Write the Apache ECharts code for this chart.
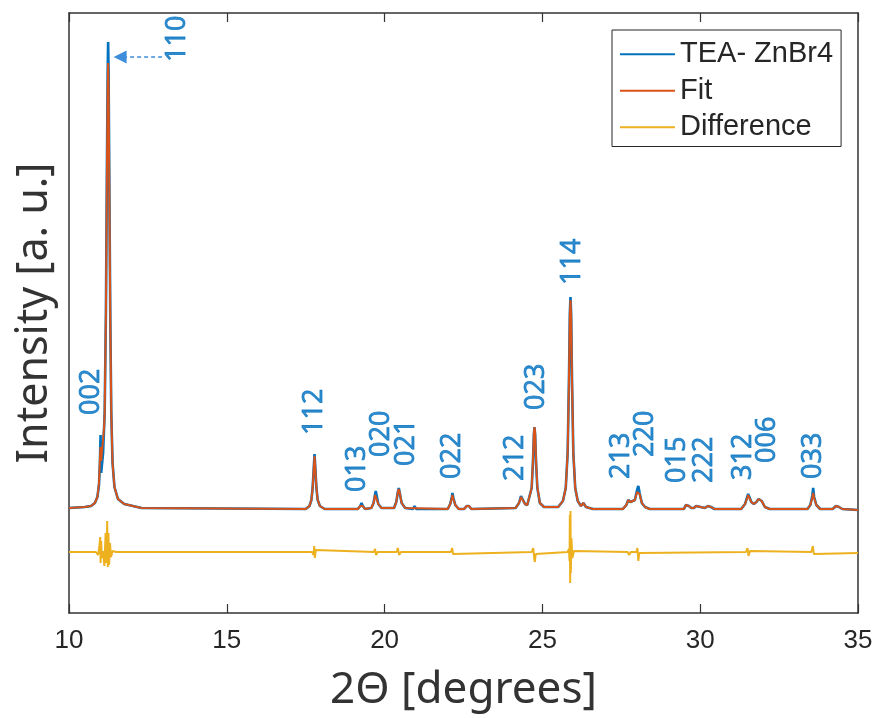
<!DOCTYPE html>
<html>
<head>
<meta charset="utf-8">
<script src="https://cdn.jsdelivr.net/npm/echarts@6/dist/echarts.min.js"></script>
<style>
  html, body { margin: 0; padding: 0; background: #ffffff; }
  #chart { width: 879px; height: 718px; }
</style>
</head>
<body>
<div id="chart"></div>
<script>
// X-ray powder pattern of TEA-ZnBr4: measured profile, refined fit and residual.
// Angles in degrees 2θ, intensities in arbitrary units.

const xMin = 10, xMax = 35, xStep = 5;
const yMin = 0, yMax = 600;

// Measured profile [2θ, intensity]
const measured = [
  [10.00,105],[10.50,106],[10.70,107],[10.82,110],[10.90,116],[10.95,128],[10.98,150],[11.00,178],[11.01,178],[11.02,140],
  [11.08,160],[11.13,200],[11.17,300],[11.20,440],[11.225,540],[11.24,571],[11.255,540],[11.28,420],[11.31,290],[11.34,200],
  [11.38,150],[11.44,126],[11.55,114],[11.75,109],[12.30,105],
  [17.50,104],[17.62,107],[17.68,113],[17.72,125],[17.755,145],[17.78,159],[17.805,145],[17.84,125],[17.88,113],[17.95,107],[18.10,104],
  [19.15,104],[19.23,107],[19.27,110],[19.31,107],[19.38,104],
  [19.58,105],[19.65,110],[19.70,119],[19.72,122],[19.75,117],[19.80,109],[19.90,105],
  [20.30,105],[20.37,111],[20.42,121],[20.45,125],[20.48,120],[20.54,110],[20.65,105],
  [20.90,104],[20.95,107],[21.00,104],
  [22.00,104],[22.08,109],[22.13,116],[22.15,120],[22.18,115],[22.24,108],[22.35,104],
  [22.52,104],[22.60,107],[22.63,108],[22.67,107],[22.75,104],
  [24.15,105],[24.26,110],[24.32,117],[24.34,119],[24.37,116],[24.45,109],[24.52,108],
  [24.58,110],[24.66,125],[24.70,150],[24.73,178],[24.75,186],[24.77,178],[24.80,150],[24.84,125],[24.92,110],[25.05,106],
  [25.50,106],[25.65,112],[25.74,125],[25.80,160],[25.84,230],[25.87,300],[25.89,316],[25.91,300],[25.94,230],[25.98,160],
  [26.04,125],[26.12,112],[26.22,107],[26.30,110],[26.38,106],[26.60,104],
  [27.55,104],[27.66,108],[27.72,113],[27.75,115],[27.79,111],[27.85,110],
  [27.93,113],[28.00,123],[28.04,127],[28.08,120],[28.15,110],[28.25,106],[28.40,104],
  [29.48,104],[29.55,108],[29.59,110],[29.64,107],[29.72,105],[29.80,105],[29.87,107],[29.93,105],
  [30.15,105],[30.24,107],[30.28,108],[30.34,106],[30.45,104],
  [31.30,104],[31.42,109],[31.49,116],[31.52,119],[31.56,116],[31.62,111],[31.70,109],[31.78,111],[31.85,114],[31.90,115],[31.95,112],[32.05,106],[32.20,104],
  [33.40,104],[33.49,108],[33.55,117],[33.58,125],[33.61,116],[33.68,108],[33.80,104],
  [34.20,104],[34.30,107],[34.34,108],[34.40,106],[34.50,104],[35.00,103]
];

// Refined (calculated) profile [2θ, intensity]
const fitted = [
  [10.00,105],[10.50,106],[10.70,107],[10.82,110],[10.90,116],[10.95,130],[10.985,158],[11.00,166],[11.02,152],[11.06,152],
  [11.11,185],[11.13,200],[11.17,300],[11.20,435],[11.225,525],[11.24,550],[11.255,525],[11.28,415],[11.31,290],[11.34,200],
  [11.38,150],[11.44,126],[11.55,114],[11.75,109],[12.30,105],
  [17.50,104],[17.62,107],[17.68,113],[17.72,125],[17.755,144],[17.78,157],[17.805,144],[17.84,125],[17.88,113],[17.95,107],[18.10,104],
  [19.15,104],[19.23,107],[19.27,109],[19.31,107],[19.38,104],
  [19.58,105],[19.65,110],[19.70,118],[19.72,120],[19.75,116],[19.80,109],[19.90,105],
  [20.30,105],[20.37,111],[20.42,121],[20.45,124],[20.48,120],[20.54,110],[20.65,105],
  [22.00,104],[22.08,109],[22.13,115],[22.15,118],[22.18,114],[22.24,108],[22.35,104],
  [22.52,104],[22.60,107],[22.63,108],[22.67,107],[22.75,104],
  [24.15,105],[24.26,110],[24.32,116],[24.34,118],[24.37,115],[24.45,109],[24.52,108],
  [24.58,110],[24.66,125],[24.70,152],[24.73,180],[24.75,186],[24.77,180],[24.80,152],[24.84,126],[24.92,110],[25.05,106],
  [25.50,106],[25.65,112],[25.74,125],[25.80,160],[25.84,230],[25.87,298],[25.89,313],[25.91,298],[25.94,230],[25.98,160],
  [26.04,125],[26.12,112],[26.22,107],[26.30,110],[26.38,106],[26.60,104],
  [27.55,104],[27.66,108],[27.72,113],[27.75,114],[27.79,111],[27.85,110],
  [27.93,113],[28.00,121],[28.04,123],[28.08,119],[28.15,110],[28.25,106],[28.40,104],
  [29.48,104],[29.55,108],[29.59,110],[29.64,107],[29.72,105],[29.80,105],[29.87,107],[29.93,105],
  [30.15,105],[30.24,107],[30.28,108],[30.34,106],[30.45,104],
  [31.30,104],[31.42,109],[31.49,115],[31.52,118],[31.56,115],[31.62,111],[31.70,109],[31.78,111],[31.85,114],[31.90,115],[31.95,112],[32.05,106],[32.20,104],
  [33.40,104],[33.49,108],[33.55,115],[33.58,120],[33.61,115],[33.68,108],[33.80,104],
  [34.20,104],[34.30,107],[34.34,108],[34.40,106],[34.50,104],[35.00,103]
];

// Residual (measured minus fit), shifted below the profiles [2θ, intensity]
const residual = [
  [10.00,61],[10.85,61],[10.92,58],[10.96,66],[10.99,76],[11.00,50],[11.02,72],[11.04,55],[11.08,62],[11.12,47],
  [11.16,80],[11.19,50],[11.21,92],[11.23,46],[11.25,80],[11.27,48],[11.30,70],[11.33,56],[11.38,62],[11.50,61],
  [17.70,61],[17.75,58],[17.77,67],[17.79,55],[17.82,63],[17.88,61],
  [19.66,61],[19.70,64],[19.73,58],[19.78,61],
  [20.38,61],[20.42,65],[20.46,58],[20.52,61],
  [20.92,61],[20.95,63],[21.00,61],
  [22.10,61],[22.14,65],[22.17,59],[22.22,61],
  [24.66,61],[24.71,65],[24.74,55],[24.76,51],[24.79,59],[24.85,61],
  [25.80,61],[25.84,64],[25.86,52],[25.87,98],[25.88,30],[25.89,102],[25.90,40],[25.92,75],[25.95,55],[26.00,62],[26.05,61],
  [27.70,61],[27.75,58],[27.80,61],
  [27.98,61],[28.01,65],[28.04,52],[28.07,60],[28.12,61],
  [31.45,61],[31.50,65],[31.53,57],[31.58,62],[31.62,61],
  [33.52,61],[33.57,67],[33.60,59],[33.65,61],
  [35.00,60]
];

// Miller indices of the indexed reflections and where their tags sit
const hklNames = ['002','110','112','013','020','021','022','212','023','114','213','220','015','222','312','006','033'];
const hklX     = [10.70, 13.42, 17.76, 19.13, 19.89, 20.68, 22.14, 24.13, 24.80, 25.94, 27.49, 28.25, 29.26, 30.12, 31.36, 32.12, 33.57];
const hklY     = [198,   551,   178,   121,   156,   147,   134,   132,   203,   328,   134,   156,   130,   130,   133,   150,   134];

// Pointer from the 110 tag to its peak
const arrowFrom = [12.95, 556];
const arrowTo   = [11.62, 556];

const seriesNames = ['TEA- ZnBr4', 'Fit', 'Difference'];
const seriesColors = ['#0072BD', '#D95319', '#EDB120'];

const axisColor = '#333333';
const tagBlue = '#0070C0';

const chart = echarts.init(document.getElementById('chart'), null, { renderer: 'canvas' });

chart.setOption({
  animation: false,
  backgroundColor: '#ffffff',
  grid: { left: 69, right: 21, top: 13, bottom: 105, containLabel: false },
  legend: {
    data: seriesNames,
    left: 612, top: 30,
    orient: 'vertical',
    icon: 'rect',
    itemWidth: 55, itemHeight: 2,
    itemGap: 0,
    padding: [6, 8, 1, 8],
    borderColor: '#262626', borderWidth: 1,
    backgroundColor: '#ffffff',
    selectedMode: false,
    textStyle: { fontFamily: 'Liberation Sans', fontSize: 29, color: '#262626', lineHeight: 36.5 }
  },
  xAxis: [
    {
      type: 'value', min: xMin, max: xMax, interval: xStep, position: 'bottom',
      name: '2Θ [degrees]', nameLocation: 'middle', nameGap: 55,
      nameTextStyle: { fontFamily: 'Noto Sans', fontSize: 44, color: '#333333' },
      axisLine: { show: true, onZero: false, lineStyle: { color: axisColor, width: 1.5 } },
      axisTick: { show: true, inside: true, length: 9, lineStyle: { color: axisColor, width: 1.2 } },
      axisLabel: { show: true, margin: 15, fontFamily: 'Liberation Sans Narrow, Liberation Sans', fontSize: 26, color: '#262626' },
      splitLine: { show: false }
    },
    {
      type: 'value', min: xMin, max: xMax, interval: xStep, position: 'top',
      axisLine: { show: true, onZero: false, lineStyle: { color: axisColor, width: 1.5 } },
      axisTick: { show: true, inside: true, length: 9, lineStyle: { color: axisColor, width: 1.2 } },
      axisLabel: { show: false },
      splitLine: { show: false }
    }
  ],
  yAxis: [
    {
      type: 'value', min: yMin, max: yMax, position: 'left',
      name: 'Intensity [a. u.]', nameLocation: 'middle', nameGap: 13,
      nameTextStyle: { fontFamily: 'Noto Sans', fontSize: 43, color: '#333333' },
      axisLine: { show: true, onZero: false, lineStyle: { color: axisColor, width: 1.5 } },
      axisTick: { show: false },
      axisLabel: { show: false },
      splitLine: { show: false }
    },
    {
      type: 'value', min: yMin, max: yMax, position: 'right',
      axisLine: { show: true, onZero: false, lineStyle: { color: axisColor, width: 1.5 } },
      axisTick: { show: false },
      axisLabel: { show: false },
      splitLine: { show: false }
    }
  ],
  series: [
    {
      name: seriesNames[0], type: 'line', data: measured, showSymbol: false, symbol: 'none',
      color: seriesColors[0], lineStyle: { color: seriesColors[0], width: 2.6 }, z: 2
    },
    {
      name: seriesNames[1], type: 'line', data: fitted, showSymbol: false, symbol: 'none',
      color: seriesColors[1], lineStyle: { color: seriesColors[1], width: 2 }, z: 3
    },
    {
      name: seriesNames[2], type: 'line', data: residual, showSymbol: false, symbol: 'none',
      color: seriesColors[2], lineStyle: { color: seriesColors[2], width: 2 }, z: 3
    },
    {
      name: 'hkl', type: 'scatter', silent: true, z: 5,
      data: hklNames.map((n, i) => [hklX[i], hklY[i], n]),
      symbolSize: 1,
      itemStyle: { color: 'rgba(0,0,0,0)' },
      label: {
        show: true, position: 'inside', rotate: 90, align: 'left', verticalAlign: 'middle',
        formatter: p => p.data[2],
        fontFamily: 'Open Sans', fontSize: 27, color: tagBlue,
        textBorderColor: tagBlue, textBorderWidth: 0.8
      },
      markLine: {
        silent: true, animation: false,
        symbol: ['none', 'triangle'], symbolSize: 13,
        label: { show: false },
        lineStyle: { color: '#3E8EDB', width: 1.5, type: [4, 3] },
        itemStyle: { color: '#3E8EDB' },
        data: [[{ coord: arrowFrom }, { coord: arrowTo }]]
      }
    }
  ]
});
</script>
</body>
</html>
